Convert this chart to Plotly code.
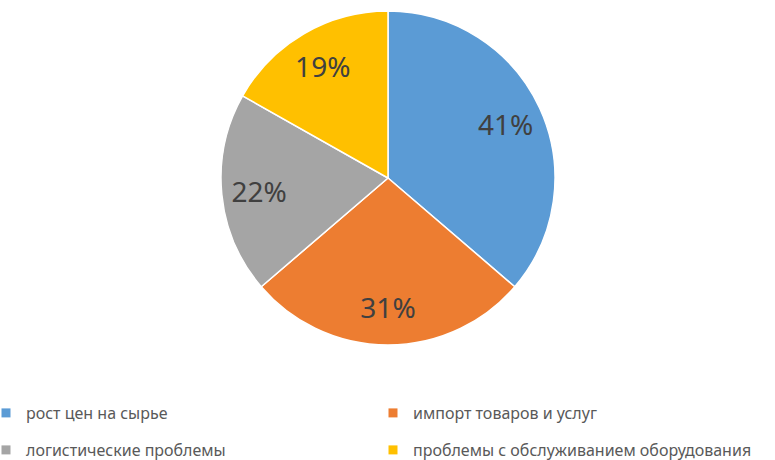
import plotly.graph_objects as go

labels = ["рост цен на сырье", "импорт товаров и услуг", "логистические проблемы",
          "проблемы с обслуживанием оборудования"]
values = [41, 31, 22, 19]
colors = ["#5B9BD5", "#ED7D31", "#A5A5A5", "#FFC000"]

W, H = 775, 460
FONT = "Noto Sans"
dom = dict(x=[(388 - 167) / W, (388 + 167) / W], y=[(H - 345) / H, (H - 11) / H])

fig = go.Figure()
# full pie (slices)
fig.add_trace(go.Pie(
    labels=labels, values=values, sort=False, direction="clockwise", rotation=0,
    marker=dict(colors=colors, line=dict(color="white", width=1.5)),
    textinfo="none", domain=dom, showlegend=False, hoverinfo="label+value",
))
# transparent ring carrying the data labels, placed further out like the reference
fig.add_trace(go.Pie(
    labels=labels, values=values, sort=False, direction="clockwise", rotation=0, hole=0.55,
    marker=dict(colors=["rgba(0,0,0,0)"] * len(values), line=dict(width=0)),
    texttemplate="%{value}%", textposition="inside", insidetextorientation="horizontal",
    textfont=dict(family=FONT, size=28, color="#404040"),
    domain=dom, showlegend=False, hoverinfo="skip",
))

legend_pos = [(-14, 413), (373, 413), (-14, 450), (373, 450)]
layout_legends = {}
for i, (lab, col, (px, py)) in enumerate(zip(labels, colors, legend_pos)):
    name = "legend" if i == 0 else f"legend{i+1}"
    fig.add_trace(go.Scatter(
        x=[None], y=[None], mode="markers", name=lab,
        marker=dict(symbol="square", size=9, color=col),
        legend=name, showlegend=True,
    ))
    layout_legends[name] = dict(
        x=px / W, y=(H - py) / H, xanchor="left", yanchor="middle",
        bgcolor="rgba(0,0,0,0)", borderwidth=0,
        font=dict(family=FONT, size=16, color="#595959"),
    )

fig.update_layout(
    width=W, height=H, margin=dict(l=0, r=0, t=0, b=0, autoexpand=False),
    paper_bgcolor="white", plot_bgcolor="white",
    xaxis=dict(visible=False), yaxis=dict(visible=False),
    **layout_legends,
)

fig.write_html("out.html", config={"displayModeBar": False},
               post_script="document.body.style.margin='0';")
